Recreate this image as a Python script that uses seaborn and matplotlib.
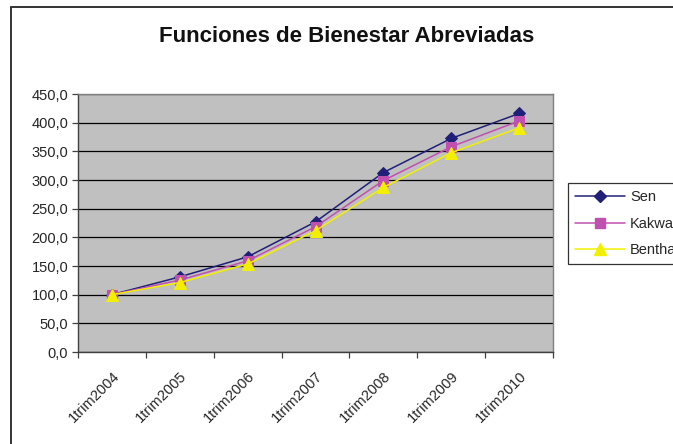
import matplotlib
matplotlib.use('Agg')

import matplotlib.pyplot as plt
import matplotlib.transforms as mtransforms
import seaborn as sns
import pandas as pd
from matplotlib.lines import Line2D
from matplotlib.ticker import FixedLocator, FuncFormatter

periods = ["1trim2004", "1trim2005", "1trim2006", "1trim2007",
           "1trim2008", "1trim2009", "1trim2010"]
sen = [100.0, 131.0, 166.0, 227.0, 313.0, 372.5, 416.0]
kakwani = [100.0, 125.5, 159.0, 218.5, 299.0, 358.0, 403.0]
bentham = [100.0, 121.0, 153.5, 211.5, 287.0, 347.5, 391.0]
series_names = ["Sen", "Kakwani", "Bentham"]

rows = []
for name, vals in zip(series_names, [sen, kakwani, bentham]):
    for i, v in enumerate(vals):
        rows.append({"pos": i, "valor": v, "serie": name})
df = pd.DataFrame(rows)

sns.set_style("white")
plt.rcParams['font.family'] = ['Liberation Sans', 'DejaVu Sans']

fig = plt.figure(figsize=(6.73, 4.44), dpi=100)
ax = fig.add_axes([78 / 673, 1 - 352 / 444, 475 / 673, 258 / 444])
ax.set_facecolor("#C0C0C0")

palette = {"Sen": "#20207a", "Kakwani": "#c050b0", "Bentham": "#f2f000"}
markers = {"Sen": "D", "Kakwani": "s", "Bentham": "^"}
sizes_m = {"Sen": 6, "Kakwani": 6.5, "Bentham": 8}

for name in series_names:
    sub = df[df["serie"] == name]
    sns.lineplot(data=sub, x="pos", y="valor", ax=ax, color=palette[name],
                 marker=markers[name], markersize=sizes_m[name],
                 markeredgecolor=palette[name], linewidth=1.1, label=name,
                 legend=False, zorder=3)

ax.set_xlim(-0.5, 6.5)
ax.set_ylim(0, 450)
ax.set_yticks(range(0, 451, 50))
ax.yaxis.set_major_formatter(FuncFormatter(lambda v, p: f"{v:.1f}".replace(".", ",")))
ax.grid(axis="y", color="black", linewidth=0.9)
ax.set_axisbelow(True)

ax.set_xticks(range(len(periods)))
ax.set_xticklabels(periods, rotation=45, ha="right", rotation_mode="anchor", fontsize=10.5)
shift = mtransforms.ScaledTranslation(-8 / 100, 0, fig.dpi_scale_trans)
for lbl in ax.get_xticklabels():
    lbl.set_transform(lbl.get_transform() + shift)
ax.xaxis.set_minor_locator(FixedLocator([i + 0.5 for i in range(-1, 7)]))
ax.tick_params(axis="x", which="major", length=0, pad=12)
ax.tick_params(axis="x", which="minor", length=4, width=0.9, color="#404040", direction="out", bottom=True)
ax.tick_params(axis="y", length=4, width=0.9, color="#404040", direction="out", left=True, labelsize=10.5, pad=3)
ax.set_xlabel("")
ax.set_ylabel("")

for side in ["left", "bottom"]:
    ax.spines[side].set_color("#404040")
    ax.spines[side].set_linewidth(1.0)
for side in ["right", "top"]:
    ax.spines[side].set_color("#808080")
    ax.spines[side].set_linewidth(1.0)

fig.suptitle("Funciones de Bienestar Abreviadas", x=347 / 673, y=1 - 37 / 444,
             va="center", fontsize=16, fontweight="bold", color="#111111")

handles = [Line2D([0], [0], color=palette[n], marker=markers[n], markersize=sizes_m[n],
                  markeredgecolor=palette[n], linewidth=1.1) for n in series_names]
leg = fig.legend(handles, series_names, loc="upper left",
                 bbox_to_anchor=(568 / 673, 1 - 183 / 444), frameon=True,
                 fancybox=False, edgecolor="black", fontsize=10.5,
                 handlelength=3.4, borderpad=0.5, labelspacing=0.85, handletextpad=0.35,
                 borderaxespad=0)
leg.get_frame().set_linewidth(0.9)

fig.add_artist(Line2D([11 / 673, 1], [1 - 7.5 / 444] * 2, color="#333333", linewidth=1.4))
fig.add_artist(Line2D([11 / 673] * 2, [0, 1 - 7.5 / 444], color="#333333", linewidth=1.4))

fig.savefig("out.png", dpi=100)
plt.close(fig)
